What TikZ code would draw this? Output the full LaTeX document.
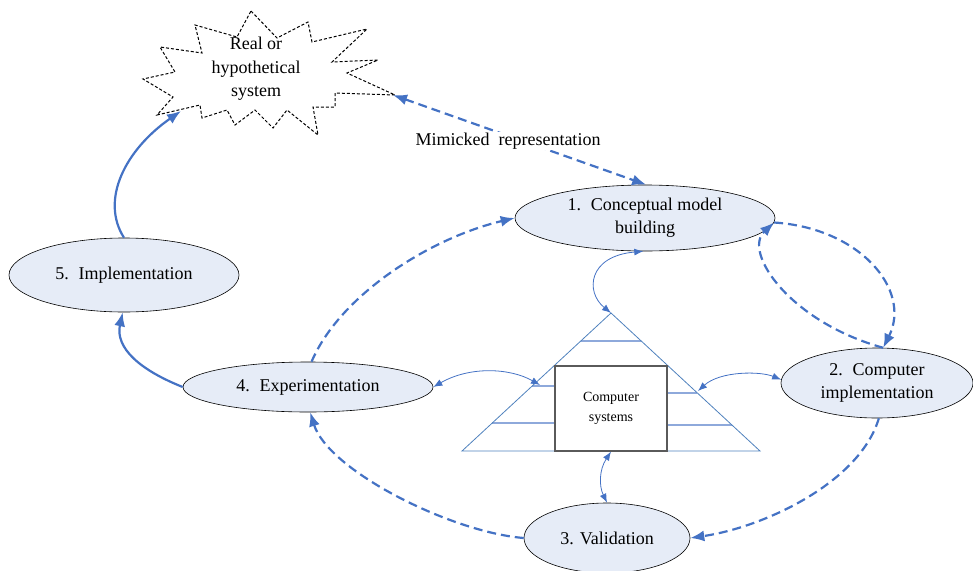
\documentclass[tikz,border=0pt]{standalone}
\usepackage{fontspec}
\setmainfont{Liberation Serif}
\usetikzlibrary{shapes.geometric,arrows.meta}
\definecolor{arrblue}{RGB}{68,114,196}
\definecolor{triblue}{RGB}{79,129,189}
\definecolor{lineblue}{RGB}{142,169,219}
\definecolor{ellfill}{RGB}{230,236,247}
\definecolor{boxgray}{RGB}{90,90,90}
\tikzset{
  stage/.style={ellipse, draw=black, line width=0.6pt, fill=ellfill, inner sep=0pt,
    align=center, font=\fontsize{18}{23}\selectfont},
  thickdash/.style={draw=arrblue, line width=2.2pt, dash pattern=on 9pt off 5pt,
    -{Latex[length=14pt,width=11pt]}},
  thicksolid/.style={draw=arrblue, line width=2.2pt, -{Latex[length=14pt,width=11pt]}},
  thinarr/.style={draw=arrblue, line width=0.8pt,
    {Latex[length=9pt,width=7pt]}-{Latex[length=9pt,width=7pt]}},
}
\begin{document}
\begin{tikzpicture}[x=1pt,y=-1pt]
\useasboundingbox (0,0) rectangle (973,570);

% starburst
\draw[black, line width=1pt, dash pattern=on 3pt off 2pt, fill=white]
  (251,11) -- (277,38) -- (308,22) -- (312,42) -- (367,29) -- (332,62) -- (378,60)
  -- (347,73) -- (395,95) -- (335,93) -- (335,107) -- (313,107) -- (318,135)
  -- (287,110) -- (273,128) -- (255,110) -- (235,125) -- (227,110) -- (202,118)
  -- (200,105) -- (157,115) -- (173,97) -- (143,79) -- (175,72) -- (160,47)
  -- (202,53) -- (195,25) -- (237,37) -- cycle;
\node[align=center, font=\fontsize{18}{23.5}\selectfont] (sys) at (256,69) {Real or\\hypothetical\\system};
\coordinate (sbR) at (393,95);
\coordinate (sbL) at (181,111);

% pyramid
\coordinate (apex) at (611,313);
\coordinate (tl) at (462,451);
\coordinate (tr) at (760,451);
\draw[lineblue, line width=1.3pt] (581,341) -- (641,341);
\draw[lineblue, line width=1.3pt] (532,386) -- (555,386);
\draw[lineblue, line width=1.3pt] (492,423) -- (555,423);
\draw[lineblue, line width=1.3pt] (667,393) -- (697,393);
\draw[lineblue, line width=1.3pt] (667,425) -- (732,425);
\draw[triblue, line width=0.8pt] (tl) -- (apex) -- (tr) -- cycle;
\node[draw=boxgray, line width=1.2pt, fill=white, minimum width=112pt, minimum height=85pt,
  inner sep=0pt, align=center, font=\fontsize{14}{20}\selectfont] (box) at (611,408.5) {Computer\\systems};
\coordinate (tleft) at (540,385);
\coordinate (tright) at (698,391);

% stages
\node[stage, minimum width=260pt, minimum height=66pt] (c1) at (645,218) {1.\hspace{0.55em}Conceptual model\\building};
\node[stage, minimum width=192pt, minimum height=70pt] (c2) at (877,383) {2.\hspace{0.55em}Computer\\implementation};
\node[stage, minimum width=166pt, minimum height=70pt] (c3) at (607,538) {3. Validation};
\node[stage, minimum width=250pt, minimum height=50pt] (c4) at (308,387) {4.\hspace{0.55em}Experimentation};
\node[stage, minimum width=230pt, minimum height=74pt] (c5) at (124,275) {5.\hspace{0.55em}Implementation};

% mimicked representation
\draw[draw=arrblue, line width=2.2pt, dash pattern=on 9pt off 5pt,
  {Latex[length=14pt,width=11pt]}-{Latex[length=14pt,width=11pt]}] (sbR) -- (c1.88);
\node[fill=white, inner sep=1pt, font=\fontsize{18}{22}\selectfont] (mim) at (508,141) {Mimicked\hspace{0.5em}representation};

% thick dashed cycle
\draw[thickdash] (c4.82) .. controls (340,295) and (430,238) .. (c1.west);
\draw[thickdash] (c1.-2) .. controls (860,228) and (912,290) .. (c2.80);
\draw[thickdash] (c2.80) .. controls (790,322) and (742,252) .. (c1.-2);
\draw[thickdash] (c2.-87) .. controls (860,482) and (765,527) .. (c3.east);
\draw[thickdash] (c3.west) .. controls (450,532) and (328,470) .. (c4.-85);

% thick solid
\draw[thicksolid] (c4.west) .. controls (140,370) and (115,348) .. (c5.-92);
\draw[thicksolid] (c5.north) .. controls (100,200) and (125,150) .. (sbL);

% thin double arrows
\draw[thinarr] (c1.-93) .. controls (588,256) and (585,292) .. (apex);
\draw[thinarr] (c4.east) .. controls (470,366) and (510,368) .. (tleft);
\draw[thinarr] (tright) .. controls (720,371) and (760,371) .. (c2.178);
\draw[thinarr] (box.south) .. controls (599,470) and (599,486) .. (c3.north);
\end{tikzpicture}
\end{document}
